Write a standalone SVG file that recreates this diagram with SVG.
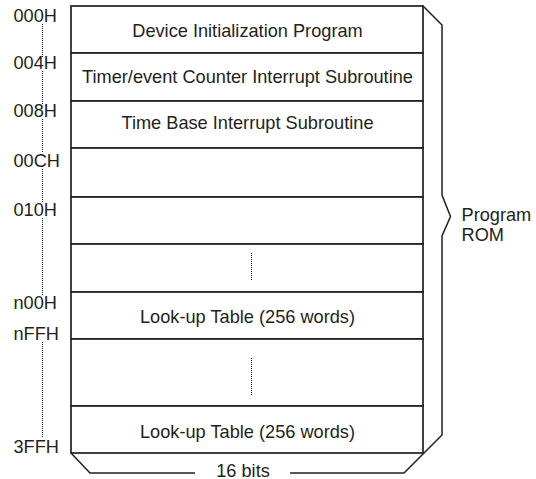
<svg xmlns="http://www.w3.org/2000/svg" width="536" height="479" viewBox="0 0 536 479">
<style>
text{font-family:"Liberation Sans",Arial,sans-serif;font-size:18.2px;fill:#231f20}
.c{text-anchor:middle}
.row{fill:#fff;stroke:#231f20;stroke-width:1.7}
.ln{fill:none;stroke:#231f20;stroke-width:1.5;stroke-linejoin:miter}
.dot{fill:none;stroke:#231f20;stroke-width:1;stroke-dasharray:1 1}
</style>
<g id="rows">
<g id="r0"><rect class="row" x="71" y="6" width="352" height="47"/><text class="c" x="247.5" y="37">Device Initialization Program</text></g>
<g id="r1"><rect class="row" x="71" y="53" width="352" height="48"/><text class="c" x="247.5" y="83">Timer/event Counter Interrupt Subroutine</text></g>
<g id="r2"><rect class="row" x="71" y="101" width="352" height="47"/><text class="c" x="247.5" y="129">Time Base Interrupt Subroutine</text></g>
<g id="r3"><rect class="row" x="71" y="148" width="352" height="49"/></g>
<g id="r4"><rect class="row" x="71" y="197" width="352" height="47"/></g>
<g id="r5"><rect class="row" x="71" y="244" width="352" height="48"/><line class="dot" x1="251.5" y1="253" x2="251.5" y2="281"/></g>
<g id="r6"><rect class="row" x="71" y="292" width="352" height="47"/><text class="c" x="247.5" y="323">Look-up Table (256 words)</text></g>
<g id="r7"><rect class="row" x="71" y="339" width="352" height="67"/><line class="dot" x1="251.5" y1="358" x2="251.5" y2="395"/></g>
<g id="r8"><rect class="row" x="71" y="406" width="352" height="47"/><text class="c" x="247.5" y="437.5">Look-up Table (256 words)</text></g>
</g>
<g id="addresses">
<text x="13.5" y="22">000H</text>
<text x="13.5" y="69">004H</text>
<text x="13.5" y="117">008H</text>
<text x="13.5" y="167">00CH</text>
<text x="13.5" y="216">010H</text>
<text x="13.5" y="309">n00H</text>
<text x="13.5" y="340">nFFH</text>
<text x="13.5" y="453">3FFH</text>
<path class="dot" d="M42.5 24V57M42.5 71V104M42.5 119V153M42.5 169V202M42.5 218V296M42.5 342V438"/>
</g>
<g id="connectors">
<path class="ln" d="M423 6L442 25V195L450.5 216.5L442 236V435L404 473H290"/>
<path class="ln" d="M71 453L90 473H195"/>
</g>
<g id="program-rom"><text x="461.5" y="221">Program</text><text x="461.5" y="241">ROM</text></g>
<g id="width-label"><text class="c" x="243" y="476.5">16 bits</text></g>
</svg>
